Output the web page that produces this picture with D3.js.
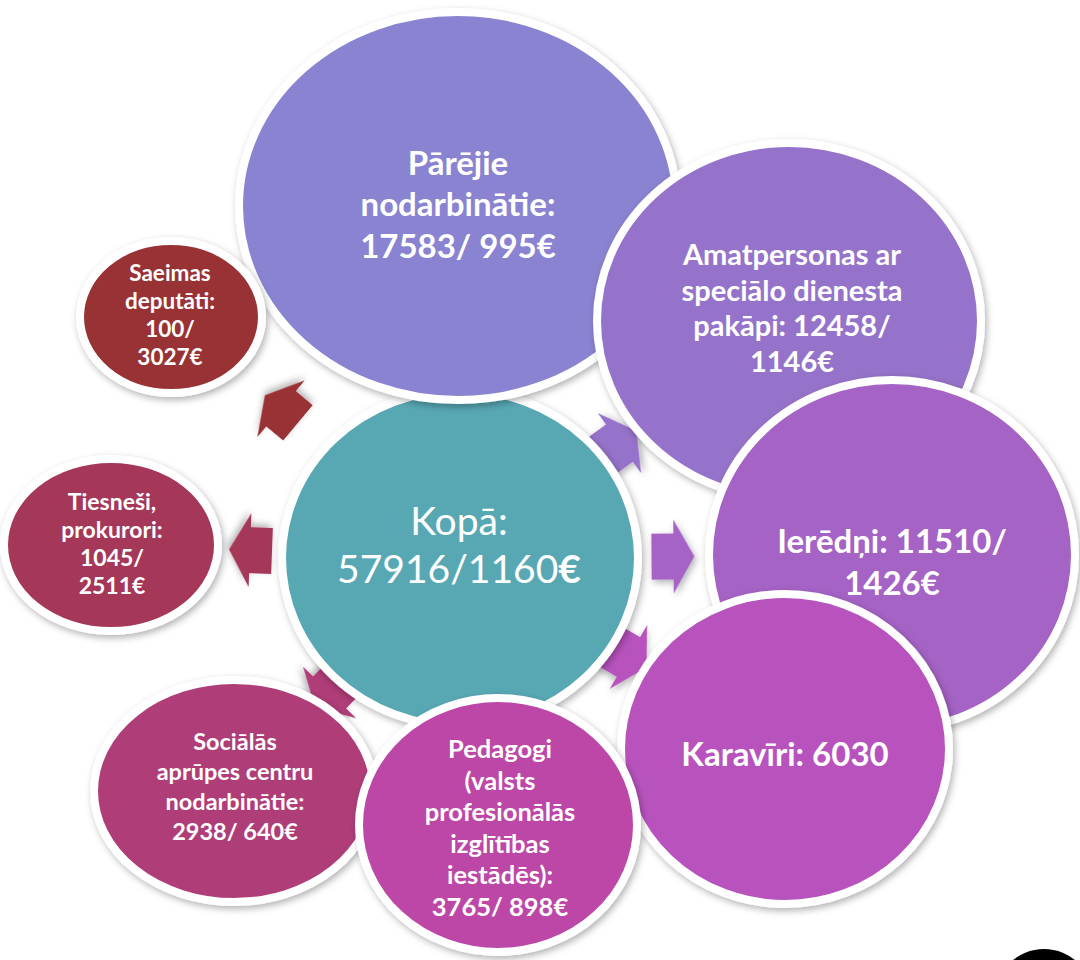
<!DOCTYPE html>
<html>
<head>
<meta charset="utf-8">
<script src="https://cdn.jsdelivr.net/npm/d3@7"></script>
<style>
  html, body { margin: 0; padding: 0; background: #fff; }
  svg { display: block; }
</style>
</head>
<body>
<svg id="chart"></svg>
<script>
const W = 1080, H = 960;

// data
const total = { count: 57916, salary: 1160 };
const nameLines = [
  ["Pārējie", "nodarbinātie:"],
  ["Amatpersonas ar", "speciālo dienesta", "pakāpi:"],
  ["Ierēdņi:"],
  ["Karavīri:"],
  ["Pedagogi", "(valsts", "profesionālās", "izglītības", "iestādēs):"],
  ["Sociālās", "aprūpes centru", "nodarbinātie:"],
  ["Tiesneši,", "prokurori:"],
  ["Saeimas", "deputāti:"]
];
const counts = [17583, 12458, 11510, 6030, 3765, 2938, 1045, 100];
const salaries = [995, 1146, 1426, null, 898, 640, 2511, 3027];

// layout (outer ellipse edge incl. white ring), text offsets and wrapping
const COLORS = ["#8A83D1", "#9673CA", "#A564C5", "#B853BE", "#BD46A6", "#AF3E78", "#A53758", "#983234"];
const CENTER_COLOR = "#58A8B4";
const centerShape = { cx: 460, cy: 558, rx: 182, ry: 172, tx: -1, ty: -14, fs: 39, lh: 48 };
const shapes = [
  { cx: 458, cy: 206, rx: 223, ry: 198, tx: 0, ty: -3, fs: 33, lh: 41.5, wrap: "own" },
  { cx: 789, cy: 321, rx: 196, ry: 182, tx: 3, ty: -14, fs: 29, lh: 35.7, wrap: "inline" },
  { cx: 892, cy: 555, rx: 187, ry: 179, tx: 0, ty: 6, fs: 33, lh: 42, wrap: "inline" },
  { cx: 785, cy: 749, rx: 168, ry: 159, tx: 0, ty: 4, fs: 33, lh: 42, wrap: "inline" },
  { cx: 498, cy: 825, rx: 143, ry: 131, tx: 2, ty: 2, fs: 25.5, lh: 31.6, wrap: "own" },
  { cx: 234, cy: 791, rx: 144, ry: 115, tx: 1, ty: -5, fs: 23.5, lh: 29.7, wrap: "own" },
  { cx: 111, cy: 545, rx: 111, ry: 90, tx: 1, ty: -2, fs: 23, lh: 28.3, wrap: "split" },
  { cx: 171, cy: 317, rx: 95, ry: 80, tx: -1, ty: -3, fs: 22.5, lh: 28, wrap: "split" }
];
const DRAW_ORDER = [0, 1, 2, 3, 5, 4, 6, 7];
const RING = 8;

const ARROW_BODY = 22, ARROW_HEAD = 21, ARROW_BODY_W = 46, ARROW_HEAD_W = 74;

function textLines(i) {
  const names = nameLines[i].slice();
  const c = counts[i], s = salaries[i];
  const last = names.length - 1;
  if (shapes[i].wrap === "own") {
    names.push(`${c}/ ${s}€`);
  } else if (shapes[i].wrap === "inline") {
    names[last] = names[last] + " " + c + (s != null ? "/" : "");
    if (s != null) names.push(`${s}€`);
  } else {
    names.push(`${c}/`, `${s}€`);
  }
  return names;
}

function ellipseRadius(e, ux, uy) {
  return 1 / Math.sqrt((ux / e.rx) ** 2 + (uy / e.ry) ** 2);
}

const svg = d3.select("#chart")
  .attr("width", W)
  .attr("height", H)
  .attr("viewBox", [0, 0, W, H]);

const defs = svg.append("defs");
defs.append("filter")
  .attr("id", "shadow")
  .attr("x", "-20%").attr("y", "-20%")
  .attr("width", "140%").attr("height", "140%")
  .append("feDropShadow")
  .attr("dx", 2).attr("dy", 3)
  .attr("stdDeviation", 3.5)
  .attr("flood-color", "#000")
  .attr("flood-opacity", 0.3);

svg.append("rect").attr("width", W).attr("height", H).attr("fill", "#fff");

// arrows sit halfway in the gap between centre circle and each outer circle
const arrowPath = d3.line()([
  [-ARROW_BODY, -ARROW_BODY_W / 2], [0, -ARROW_BODY_W / 2], [0, -ARROW_HEAD_W / 2],
  [ARROW_HEAD, 0],
  [0, ARROW_HEAD_W / 2], [0, ARROW_BODY_W / 2], [-ARROW_BODY, ARROW_BODY_W / 2]
]) + "Z";

svg.append("g")
  .selectAll("path")
  .data(shapes)
  .join("path")
  .attr("d", arrowPath)
  .attr("fill", (d, i) => COLORS[i])
  .attr("filter", "url(#shadow)")
  .attr("transform", d => {
    const dx = d.cx - centerShape.cx, dy = d.cy - centerShape.cy;
    const dist = Math.hypot(dx, dy);
    const ux = dx / dist, uy = dy / dist;
    const r0 = ellipseRadius(centerShape, ux, uy);
    const r1 = dist - ellipseRadius(d, ux, uy);
    const m = (r0 + r1) / 2;
    const ang = Math.atan2(uy, ux) * 180 / Math.PI;
    return `translate(${centerShape.cx + ux * m}, ${centerShape.cy + uy * m}) rotate(${ang})`;
  });

function bubble(g, d, fill) {
  g.append("ellipse")
    .attr("cx", d.cx)
    .attr("cy", d.cy)
    .attr("rx", d.rx - RING / 2)
    .attr("ry", d.ry - RING / 2)
    .attr("fill", fill)
    .attr("stroke", "#fff")
    .attr("stroke-width", RING)
    .attr("filter", "url(#shadow)");
}

// centre circle
const cg = svg.append("g");
bubble(cg, centerShape, CENTER_COLOR);
const ct = cg.append("text")
  .attr("fill", "#fff")
  .attr("text-anchor", "middle")
  .style("font-family", "Lato, 'Open Sans', sans-serif")
  .style("font-size", centerShape.fs + "px");
ct.append("tspan")
  .attr("x", centerShape.cx + centerShape.tx)
  .attr("y", centerShape.cy + centerShape.ty - centerShape.lh / 2)
  .attr("dominant-baseline", "central")
  .text("Kopā:");
ct.append("tspan")
  .attr("x", centerShape.cx + centerShape.tx)
  .attr("y", centerShape.cy + centerShape.ty + centerShape.lh / 2)
  .attr("dominant-baseline", "central")
  .text(`${total.count}/${total.salary}`);
ct.append("tspan")
  .attr("dominant-baseline", "central")
  .style("font-weight", "bold")
  .text("€");

// outer circles
DRAW_ORDER.forEach(i => {
  const d = shapes[i];
  const g = svg.append("g");
  bubble(g, d, COLORS[i]);
  const lines = textLines(i);
  g.append("text")
    .attr("fill", "#fff")
    .attr("text-anchor", "middle")
    .style("font-family", "Lato, 'Open Sans', sans-serif")
    .style("font-weight", "bold")
    .style("font-size", d.fs + "px")
    .selectAll("tspan")
    .data(lines)
    .join("tspan")
    .attr("x", d.cx + d.tx)
    .attr("y", (t, k) => d.cy + d.ty + (k - (lines.length - 1) / 2) * d.lh)
    .attr("dominant-baseline", "central")
    .text(t => t);
});

// slide badge peeking in at the bottom right corner
svg.append("circle")
  .attr("cx", 1044)
  .attr("cy", 998)
  .attr("r", 49)
  .attr("fill", "#000");
</script>
</body>
</html>
